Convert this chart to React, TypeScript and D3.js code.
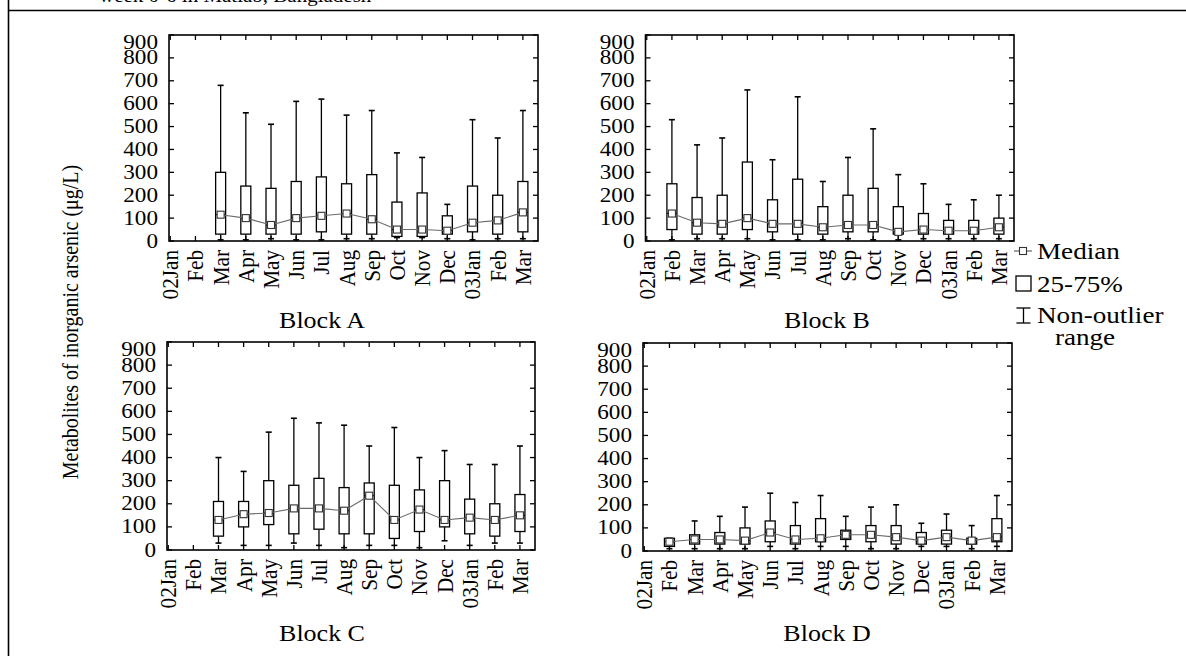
import React from 'react';
import * as d3 from 'd3';

const categories = ["02Jan", "Feb", "Mar", "Apr", "May", "Jun", "Jul", "Aug", "Sep", "Oct", "Nov", "Dec", "03Jan", "Feb", "Mar"];
const yTicks = [0, 100, 200, 300, 400, 500, 600, 700, 800, 900];

// Block A (starts at category index 2 = Mar 2002)
const blockAStart = 2;
const blockAMin = [5, 5, 10, 5, 5, 10, 10, 15, 15, 10, 5, 10, 10];
const blockAQ1 = [30, 30, 30, 30, 40, 30, 30, 20, 20, 30, 40, 30, 40];
const blockAMedian = [115, 100, 70, 100, 110, 120, 95, 50, 50, 45, 80, 90, 125];
const blockAQ3 = [300, 240, 230, 260, 280, 250, 290, 170, 210, 110, 240, 200, 260];
const blockAMax = [680, 560, 510, 610, 620, 550, 570, 385, 365, 160, 530, 450, 570];

// Block B (starts at Feb 2002)
const blockBStart = 1;
const blockBMin = [5, 10, 10, 10, 5, 5, 5, 10, 5, 5, 10, 10, 10, 10];
const blockBQ1 = [50, 30, 30, 50, 40, 30, 30, 40, 40, 30, 30, 30, 30, 30];
const blockBMedian = [120, 80, 75, 100, 75, 75, 60, 70, 70, 40, 50, 45, 45, 60];
const blockBQ3 = [250, 190, 200, 345, 180, 270, 150, 200, 230, 150, 120, 90, 90, 100];
const blockBMax = [530, 420, 450, 660, 355, 630, 260, 365, 490, 290, 250, 160, 180, 200];

// Block C (starts at Mar 2002)
const blockCStart = 2;
const blockCMin = [30, 20, 20, 30, 20, 10, 20, 20, 10, 40, 20, 30, 30];
const blockCQ1 = [60, 100, 110, 70, 90, 70, 70, 50, 80, 100, 70, 60, 80];
const blockCMedian = [130, 155, 160, 180, 180, 170, 235, 130, 175, 130, 140, 130, 150];
const blockCQ3 = [210, 210, 300, 280, 310, 270, 290, 280, 260, 300, 220, 200, 240];
const blockCMax = [400, 340, 510, 570, 550, 540, 450, 530, 400, 430, 370, 370, 450];

// Block D (starts at Feb 2002)
const blockDStart = 1;
const blockDMin = [10, 10, 10, 10, 20, 10, 20, 20, 10, 10, 20, 20, 10, 20];
const blockDQ1 = [20, 30, 30, 30, 40, 30, 40, 50, 40, 30, 30, 30, 30, 40];
const blockDMedian = [40, 50, 50, 45, 80, 50, 55, 70, 70, 60, 45, 60, 45, 60];
const blockDQ3 = [55, 70, 80, 100, 130, 110, 140, 90, 110, 110, 80, 90, 55, 140];
const blockDMax = [55, 130, 150, 190, 250, 210, 240, 150, 190, 200, 120, 160, 110, 240];

const blocks = [
  { name: "Block A", start: blockAStart, min: blockAMin, q1: blockAQ1, med: blockAMedian, q3: blockAQ3, max: blockAMax },
  { name: "Block B", start: blockBStart, min: blockBMin, q1: blockBQ1, med: blockBMedian, q3: blockBQ3, max: blockBMax },
  { name: "Block C", start: blockCStart, min: blockCMin, q1: blockCQ1, med: blockCMedian, q3: blockCQ3, max: blockCMax },
  { name: "Block D", start: blockDStart, min: blockDMin, q1: blockDQ1, med: blockDMedian, q3: blockDQ3, max: blockDMax },
];

const W = 1186, H = 656;
const FONT = '"Liberation Serif","Times New Roman",Times,serif';
const SX = 1.13;

const layouts = [
  { left: 169, right: 538, top: 35, bottom: 241, titleX: 322, titleY: 320 },
  { left: 645.5, right: 1014, top: 35, bottom: 241, titleX: 827, titleY: 320 },
  { left: 167, right: 535, top: 342, bottom: 550, titleX: 322, titleY: 633 },
  { left: 643, right: 1012, top: 343, bottom: 551, titleX: 827, titleY: 633 },
];

function T({ x, y, children, anchor = 'start', size = 20.5, rotate = 0, baseline = 'central', sx = SX }: any) {
  return (
    <text
      transform={`translate(${x},${y}) scale(${sx},1) rotate(${rotate})`}
      textAnchor={anchor}
      dominantBaseline={baseline}
      fontSize={size}
      fontFamily={FONT}
      fill="#000"
    >
      {children}
    </text>
  );
}

function Panel({ block, lay }: any) {
  const x = d3.scaleLinear().domain([-0.05, 14.6]).range([lay.left, lay.right]);
  const y = d3.scaleLinear().domain([0, 900]).range([lay.bottom, lay.top]);
  const tickLen = 5;
  const boxW = 10;
  const capW = 6;
  const items = block.med.map((m: number, i: number) => ({
    idx: block.start + i,
    min: block.min[i], q1: block.q1[i], med: m, q3: block.q3[i], max: block.max[i],
  }));
  const line = d3.line<any>().x(d => x(d.idx)).y(d => y(d.med));
  return (
    <g>
      {items.map((d: any, i: number) => {
        const cx = x(d.idx);
        return (
          <g key={i} stroke="#000" strokeWidth={1.3} fill="none">
            <line x1={cx} x2={cx} y1={y(d.q3)} y2={y(d.max)} />
            <line x1={cx - capW / 2} x2={cx + capW / 2} y1={y(d.max)} y2={y(d.max)} strokeWidth={1.6} />
            <line x1={cx} x2={cx} y1={y(d.q1)} y2={y(d.min)} />
            <line x1={cx - capW / 2} x2={cx + capW / 2} y1={y(d.min)} y2={y(d.min)} strokeWidth={1.6} />
            <rect x={cx - boxW / 2} y={y(d.q3)} width={boxW} height={y(d.q1) - y(d.q3)} fill="#fff" />
            <line x1={cx - boxW / 2} x2={cx + boxW / 2} y1={y(d.med)} y2={y(d.med)} strokeWidth={1} />
          </g>
        );
      })}
      <path d={line(items) || ''} fill="none" stroke="#6a6a6a" strokeWidth={1.1} />
      {items.map((d: any, i: number) => (
        <rect key={'m' + i} x={x(d.idx) - 3.5} y={y(d.med) - 3.5} width={7} height={7} fill="#fff" stroke="#333" strokeWidth={1.1} />
      ))}
      <rect x={lay.left} y={lay.top} width={lay.right - lay.left} height={lay.bottom - lay.top} fill="none" stroke="#000" strokeWidth={1.6} />
      {yTicks.map(t => (
        <g key={'yt' + t} stroke="#000" strokeWidth={1.3}>
          <line x1={lay.left} x2={lay.left + tickLen} y1={y(t)} y2={y(t)} />
          <line x1={lay.right} x2={lay.right - tickLen} y1={y(t)} y2={y(t)} />
        </g>
      ))}
      {categories.map((c, i) => (
        <g key={'xt' + i} stroke="#000" strokeWidth={1.3}>
          <line x1={x(i)} x2={x(i)} y1={lay.bottom} y2={lay.bottom - tickLen} />
          <line x1={x(i)} x2={x(i)} y1={lay.top} y2={lay.top + tickLen} />
        </g>
      ))}
      {yTicks.map(t => (
        <T key={'yl' + t} x={lay.left - 11} y={Math.max(y(t), lay.top + 7)} anchor="end">{String(t)}</T>
      ))}
      {categories.map((c, i) => (
        <T key={'xl' + i} x={x(i)} y={lay.bottom + 9} anchor="end" rotate={-90} size={21.2}>{c}</T>
      ))}
      <T x={lay.titleX} y={lay.titleY} anchor="middle" size={23}>{block.name}</T>
    </g>
  );
}

export default function App() {
  return (
    <svg width={W} height={H} style={{ position: 'absolute', left: 0, top: 0, display: 'block', background: '#fff' }}>
      <rect x={0} y={0} width={W} height={H} fill="#fff" />
      <T x={99} y={2} anchor="start" size={18.6} baseline="alphabetic">week 0-6 in Matlab, Bangladesh</T>
      <line x1={8.5} x2={W} y1={10.5} y2={10.5} stroke="#000" strokeWidth={1.6} />
      <line x1={8.5} x2={8.5} y1={0} y2={H} stroke="#000" strokeWidth={1.6} />
      {blocks.map((b, i) => <Panel key={i} block={b} lay={layouts[i]} />)}
      <T x={70} y={322} anchor="middle" rotate={-90} size={20} sx={1.18}>Metabolites of inorganic arsenic (μg/L)</T>
      <g stroke="#000" fill="none">
        <line x1={1014} x2={1032} y1={251} y2={251} stroke="#555" strokeWidth={1.1} />
        <rect x={1019.5} y={247.5} width={7} height={7} fill="#fff" stroke="#333" strokeWidth={1.1} />
        <rect x={1016} y={276} width={15} height={15} fill="#fff" strokeWidth={1.3} />
        <line x1={1023.5} x2={1023.5} y1={308} y2={323} strokeWidth={1.3} />
        <line x1={1016.5} x2={1030.5} y1={308} y2={308} strokeWidth={1.3} />
        <line x1={1016.5} x2={1030.5} y1={323} y2={323} strokeWidth={1.3} />
      </g>
      <T x={1037} y={251} size={24}>Median</T>
      <T x={1037} y={284} size={24}>25-75%</T>
      <T x={1037} y={315} size={24}>Non-outlier</T>
      <T x={1085} y={337} anchor="middle" size={24}>range</T>
    </svg>
  );
}
